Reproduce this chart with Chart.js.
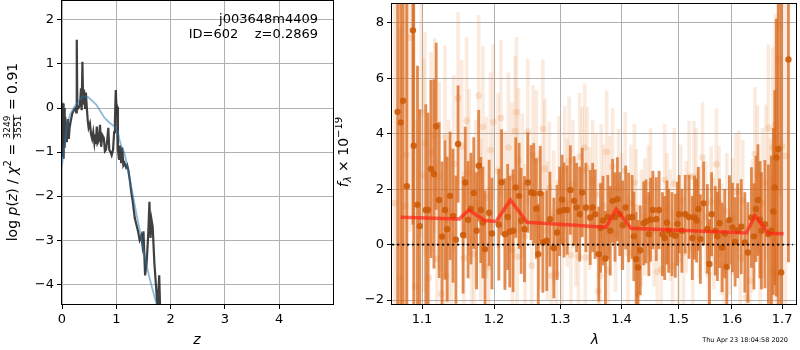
<!DOCTYPE html>
<html>
<head>
<meta charset="utf-8">
<script src="https://cdn.jsdelivr.net/npm/chart.js@4/dist/chart.umd.min.js"></script>
<style>
body{margin:0;background:#fff;width:800px;height:350px;position:relative;overflow:hidden}
#pz{position:absolute;left:0;top:0}
#sp{position:absolute;left:335px;top:0}
</style>
</head>
<body>
<canvas id="pz" width="335" height="350"></canvas>
<canvas id="sp" width="465" height="350"></canvas>
<script>
// p(z) panel
const zGrid = [0, 0.005, 0.012, 0.02, 0.03, 0.04, 0.05, 0.06, 0.075, 0.09,
  0.11, 0.125, 0.14, 0.16, 0.19, 0.22, 0.25, 0.262, 0.272, 0.282,
  0.3, 0.33, 0.35, 0.362, 0.376, 0.39, 0.405, 0.425, 0.44, 0.46,
  0.475, 0.49, 0.515, 0.535, 0.555, 0.575, 0.595, 0.61, 0.625, 0.64,
  0.655, 0.675, 0.7, 0.72, 0.745, 0.77, 0.79, 0.81, 0.835, 0.853,
  0.87, 0.895, 0.915, 0.94, 0.96, 0.975, 0.99, 1.0, 1.015, 1.03,
  1.05, 1.07, 1.09, 1.11, 1.13, 1.15, 1.18, 1.2, 1.22, 1.25,
  1.28, 1.3, 1.34, 1.4, 1.43, 1.46, 1.48, 1.5, 1.53, 1.56,
  1.59, 1.61, 1.63, 1.65, 1.67, 1.7, 1.74, 1.76, 1.79, 1.81];
const lnpZ = [-0.6, 0.12, -1.1, 0.1, -1.15, 0.0, -0.9, -0.2, -0.75, -0.55,
  -0.25, -0.7, -0.45, -0.3, -0.12, -0.05, 0.0, -0.1, 1.55, 0.05,
  0.0, 0.05, 0.45, -0.05, 1.05, 0.1, 0.42, 0.0, 0.35, -0.05,
  -0.3, -0.45, -0.35, -0.6, -0.7, -0.55, -0.78, -0.6, -0.82, -0.42,
  -0.8, -0.75, -0.38, -0.88, -0.62, -0.68, -0.98, -0.95, -0.7, -0.45,
  -0.95, -1.0, -1.07, -0.95, -0.55, -0.27, 0.41, 0.1, 0.03, -0.95,
  -1.18, -0.85, -1.25, -0.9, -1.3, -1.25, -1.35, -1.3, -1.4, -1.65,
  -1.95, -2.1, -2.5, -2.8, -3.0, -2.9, -3.1, -2.8, -3.8, -3.5,
  -2.8, -2.13, -2.95, -2.55, -2.7, -3.5, -4.2, -4.6, -3.8, -4.7];
const zFit = [0, 0.05, 0.1, 0.15, 0.22, 0.3, 0.39, 0.48, 0.55, 0.63,
  0.69, 0.78, 0.88, 0.97, 1.03, 1.06, 1.1, 1.15, 1.2, 1.25,
  1.31, 1.37, 1.43, 1.49, 1.55, 1.61, 1.67, 1.74, 1.8];
const lnpFit = [-1.3, -0.8, -0.35, -0.15, 0.02, 0.15, 0.27, 0.25, 0.17, 0.08,
  -0.04, -0.22, -0.34, -0.42, -0.55, -0.72, -0.9, -1.02, -1.3, -1.63,
  -2.0, -2.4, -2.76, -3.15, -3.52, -3.85, -4.13, -4.45, -4.7];
const zTicks = [0, 1, 2, 3, 4];
const lnpTicks = [-4, -3, -2, -1, 0, 1, 2];

// spectrum panel
const darkWave = [1.068, 1.072, 1.075, 1.080, 1.088, 1.089, 1.094, 1.097, 1.105, 1.108,
  1.112, 1.116, 1.119, 1.123, 1.127, 1.131, 1.134, 1.138, 1.142, 1.146,
  1.149, 1.156, 1.159, 1.163, 1.167, 1.171, 1.175, 1.178, 1.181, 1.184,
  1.187, 1.193, 1.197, 1.207, 1.211, 1.216, 1.220, 1.223, 1.228, 1.232,
  1.237, 1.240, 1.245, 1.250, 1.255, 1.259, 1.263, 1.266, 1.269, 1.273,
  1.279, 1.284, 1.290, 1.295, 1.299, 1.303, 1.306, 1.311, 1.316, 1.322,
  1.326, 1.331, 1.335, 1.341, 1.348, 1.352, 1.356, 1.362, 1.365, 1.369,
  1.373, 1.377, 1.381, 1.385, 1.389, 1.393, 1.397, 1.402, 1.407, 1.412,
  1.418, 1.421, 1.425, 1.428, 1.432, 1.438, 1.442, 1.447, 1.450, 1.454,
  1.460, 1.465, 1.471, 1.475, 1.479, 1.482, 1.488, 1.494, 1.498, 1.501,
  1.506, 1.512, 1.519, 1.525, 1.529, 1.533, 1.536, 1.540, 1.546, 1.553,
  1.557, 1.561, 1.568, 1.572, 1.576, 1.581, 1.586, 1.590, 1.595, 1.601,
  1.606, 1.611, 1.618, 1.625, 1.631, 1.638, 1.643, 1.647, 1.651, 1.655,
  1.658, 1.665, 1.672, 1.678, 1.682, 1.685, 1.688, 1.692, 1.698, 1.713];
const darkFlux = [4.79, 4.41, 5.19, 2.11, 7.73, 3.57, 1.44, 0.67, 1.25, 1.25,
  2.73, 2.55, 4.27, 1.61, 0.29, 1.25, 0.56, 1.76, 1.04, 0.18,
  3.63, 0.35, 2.24, 0.90, 1.30, 1.86, 0.50, 2.85, 1.25, 0.80,
  -0.16, 1.15, 0.40, 0.72, 2.25, 0.38, 1.00, 0.47, 0.50, 2.06,
  1.76, 0.86, 0.56, 2.24, 1.88, 1.85, 1.30, -0.34, 1.85, 0.08,
  0.14, 0.92, -0.12, 0.44, 1.20, 1.63, 1.25, 1.25, 1.97, 1.58,
  1.34, 1.10, 1.88, 1.34, 0.98, 1.34, 1.10, -0.34, 0.60, 0.87,
  -0.50, 1.00, 0.50, 1.58, 1.00, 1.64, 1.10, 0.70, 1.34, 0.98,
  1.00, 0.30, -0.52, -0.82, -0.20, 0.77, 0.84, 0.38, 0.90, 1.25,
  0.92, 1.25, 0.38, 0.24, 0.80, 0.50, 0.38, 0.32, 0.75, 1.10,
  0.50, 1.10, 1.00, 0.24, 0.98, 0.87, 1.29, 0.20, 1.49, 0.57,
  -0.70, 1.10, 0.50, 0.30, 0.77, -0.10, 0.40, -0.80, 0.89, 0.62,
  0.10, 0.50, 0.65, 0.08, -0.28, 0.98, 0.30, 1.29, 1.61, 0.90,
  0.50, 0.74, 0.38, 0.50, 1.20, 2.06, 3.14, 3.45, -1.00, 6.68];
const darkErr = [9, 9, 9, 8, 7, 6, 5, 4.2, 3.8, 3.5,
  3.2, 3.4, 3.0, 2.8, 2.7, 2.5, 2.6, 2.3, 2.4, 2.3,
  2.1, 2.1, 2.0, 2.1, 2.0, 2.0, 2.1, 2.0, 1.9, 2.0,
  2.1, 1.9, 2.0, 2.0, 1.9, 2.0, 1.9, 2.0, 2.2, 1.8,
  1.9, 1.9, 1.9, 1.8, 1.7, 1.8, 1.8, 1.8, 1.7, 1.8,
  1.8, 1.7, 1.8, 1.7, 1.6, 1.6, 1.7, 1.6, 1.6, 1.6,
  1.6, 1.7, 1.6, 1.6, 1.7, 1.6, 1.6, 1.7, 1.6, 1.6,
  1.7, 1.5, 1.6, 1.5, 1.6, 1.5, 1.5, 1.6, 1.5, 1.6,
  1.5, 1.6, 1.7, 1.7, 1.6, 1.5, 1.5, 1.5, 1.5, 1.4,
  1.5, 1.4, 1.5, 1.5, 1.5, 1.5, 1.5, 1.5, 1.5, 1.4,
  1.5, 1.4, 1.5, 1.5, 1.5, 1.5, 1.5, 1.6, 1.5, 1.6,
  1.6, 1.5, 1.6, 1.6, 1.6, 1.6, 1.6, 1.7, 1.6, 1.6,
  1.6, 1.7, 1.7, 1.8, 1.8, 1.8, 1.9, 1.9, 2.0, 2.1,
  2.1, 2.3, 2.5, 2.7, 3.0, 3.5, 5, 8, 12, 7.3];

const lightWave = [1.064, 1.071, 1.078, 1.079, 1.084, 1.091, 1.099, 1.102, 1.104, 1.109,
  1.112, 1.117, 1.120, 1.123, 1.126, 1.131, 1.132, 1.136, 1.140, 1.143,
  1.149, 1.154, 1.157, 1.161, 1.164, 1.168, 1.171, 1.174, 1.178, 1.181,
  1.184, 1.189, 1.192, 1.195, 1.199, 1.206, 1.210, 1.216, 1.221, 1.226,
  1.227, 1.231, 1.233, 1.234, 1.236, 1.242, 1.246, 1.250, 1.256, 1.258,
  1.263, 1.268, 1.273, 1.276, 1.280, 1.283, 1.286, 1.290, 1.294, 1.298,
  1.303, 1.307, 1.311, 1.314, 1.317, 1.320, 1.325, 1.329, 1.331, 1.335,
  1.339, 1.340, 1.343, 1.347, 1.352, 1.358, 1.361, 1.364, 1.366, 1.370,
  1.375, 1.377, 1.380, 1.385, 1.390, 1.395, 1.400, 1.406, 1.411, 1.416,
  1.422, 1.425, 1.429, 1.434, 1.440, 1.446, 1.450, 1.456, 1.462, 1.469,
  1.475, 1.479, 1.485, 1.489, 1.492, 1.500, 1.504, 1.509, 1.514, 1.519,
  1.526, 1.528, 1.532, 1.538, 1.544, 1.550, 1.555, 1.560, 1.565, 1.570,
  1.575, 1.580, 1.585, 1.590, 1.596, 1.601, 1.607, 1.613, 1.616, 1.621,
  1.628, 1.635, 1.640, 1.645, 1.650, 1.655, 1.660, 1.667, 1.672, 1.676,
  1.680, 1.681, 1.686, 1.688, 1.693, 1.695, 1.700, 1.707];
const lightFlux = [1.50, -1.20, 1.40, 3.24, 7.47, -1.50, 4.77, 2.50, 3.65, -1.20,
  3.33, 3.94, -0.50, 2.46, -1.78, 3.87, -1.13, 1.20, 0.30, 2.90,
  5.28, 3.55, -0.48, 4.47, 2.60, 0.20, -0.34, 1.50, 5.37, 0.90,
  4.25, 1.70, -0.80, 3.41, 4.42, 2.67, 4.57, 1.28, 3.50, 2.42,
  -0.19, 4.10, 4.78, -0.43, 3.05, 2.12, 0.30, 4.08, -0.76, 3.24,
  3.06, 0.90, 4.17, 2.73, 0.50, 2.04, -1.12, 1.00, -1.06, 2.23,
  0.17, 2.69, 1.50, 3.03, -0.37, 2.18, 0.80, -0.43, 3.17, 2.64,
  3.50, -0.46, 2.76, 1.30, 2.30, 1.80, -1.68, -1.12, 2.13, 1.40,
  3.35, -0.92, 1.80, 2.82, 0.40, 2.06, 1.20, 2.67, -0.30, 1.50,
  2.24, 1.34, -1.78, 0.60, 1.00, 1.58, 2.18, 0.50, -0.98, -0.88,
  2.33, 1.29, 0.70, -0.76, 2.20, -0.52, 1.60, -0.28, 1.00, 2.45,
  -0.16, 2.45, 2.20, 0.80, 3.14, 1.00, -1.06, 1.53, 0.40, 2.90,
  1.55, 0.20, -0.76, 1.20, 0.30, 1.00, 1.91, 1.91, -0.46, 1.58,
  -1.90, -1.30, 0.70, 3.27, 2.52, 0.40, 1.50, 2.24, 4.21, 0.60,
  -0.96, 3.50, 4.31, -1.08, 6.72, 7.90, 3.54, 3.20];
const lightErr = [9, 9, 8, 7, 7, 6, 4.5, 4.2, 4, 3.8,
  3.6, 3.5, 3.5, 3.4, 3.4, 3.3, 3.3, 3.3, 3.2, 3.2,
  3.1, 3.1, 3.1, 3.0, 3.0, 3.0, 3.0, 3.0, 2.9, 2.9,
  2.9, 2.9, 2.9, 2.8, 2.8, 2.8, 2.8, 2.8, 2.7, 2.7,
  2.7, 2.7, 2.7, 2.7, 2.6, 2.6, 2.6, 2.6, 2.6, 2.5,
  2.5, 2.5, 2.5, 2.5, 2.5, 2.4, 2.4, 2.4, 2.4, 2.4,
  2.4, 2.3, 2.3, 2.3, 2.3, 2.3, 2.3, 2.3, 2.3, 2.3,
  2.3, 2.3, 2.2, 2.2, 2.2, 2.2, 2.2, 2.2, 2.2, 2.2,
  2.2, 2.2, 2.1, 2.1, 2.1, 2.1, 2.1, 2.1, 2.1, 2.1,
  2.1, 2.1, 2.1, 2.1, 2.1, 2.0, 2.0, 2.0, 2.0, 2.0,
  2.0, 2.0, 2.0, 2.0, 2.0, 2.0, 2.0, 2.0, 2.0, 2.0,
  2.0, 2.0, 2.0, 2.0, 2.0, 2.0, 2.0, 2.0, 2.0, 2.0,
  2.0, 2.0, 2.1, 2.1, 2.1, 2.1, 2.1, 2.2, 2.2, 2.2,
  2.3, 2.3, 2.4, 2.4, 2.5, 2.6, 2.7, 2.8, 3.0, 3.2,
  3.4, 3.6, 4.0, 4.5, 5, 6, 7, 6];

const modelWave = [1.072, 1.151, 1.164, 1.187, 1.203, 1.224, 1.249, 1.374, 1.391, 1.416, 1.628, 1.645, 1.672, 1.703];
const modelFlux = [0.99, 0.93, 1.25, 0.87, 0.84, 1.61, 0.81, 0.63, 1.28, 0.59, 0.42, 1.05, 0.41, 0.39];
const zeroWave = [1.0608, 1.722];
const zeroFlux = [0, 0];
const waveTicks = [1.1, 1.2, 1.3, 1.4, 1.5, 1.6, 1.7];
const fluxTicks = [-2, 0, 2, 4, 6, 8];

Chart.defaults.font.family = "'DejaVu Sans', sans-serif";
Chart.defaults.font.size = 13;
Chart.defaults.color = '#000';

const pts = (xs, ys) => xs.map((x, i) => ({x: x, y: ys[i]}));
const errBars = (xs, ys, es) => xs.map((x, i) => ({x: x, y: [ys[i] - es[i], ys[i] + es[i]]}));
const minus = v => String(v).replace('-', '\u2212');

// fixed axis sizes so the plot areas land where the reference has them
const fitX = s => { s.height = 46; s.paddingLeft = 0; s.paddingRight = 0; };
const fitY = w => s => { s.width = w; s.paddingTop = 0; s.paddingBottom = 0; };

function axis(type, min, max, ticks, fit, fmt) {
  return {
    type: type, min: min, max: max, offset: false,
    grid: {color: '#b0b0b0', lineWidth: 1, tickColor: '#000', tickLength: 5, tickWidth: 1, offset: false},
    border: {display: false},
    ticks: {color: '#000', padding: 3, maxRotation: 0, autoSkip: false, callback: fmt},
    afterBuildTicks: s => { s.ticks = ticks.map(v => ({value: v})); },
    afterFit: fit
  };
}

const frame = {
  id: 'frame',
  afterDraw(chart) {
    const a = chart.chartArea, ctx = chart.ctx;
    ctx.save();
    ctx.strokeStyle = '#000';
    ctx.lineWidth = 1;
    ctx.strokeRect(Math.round(a.left) - 0.5, Math.round(a.top) - 0.5,
      Math.round(a.right - a.left) + 1, Math.round(a.bottom - a.top) + 1);
    ctx.restore();
  }
};

// draws a row of text pieces centred on 0,0 (used for rotated labels)
function drawPieces(ctx, pieces) {
  let w = 0;
  pieces.forEach(p => {
    ctx.font = p.font;
    p.w = p.frac ? Math.max(ctx.measureText(p.frac[0]).width, ctx.measureText(p.frac[1]).width) + 2
                 : ctx.measureText(p.t).width;
    w += p.w;
  });
  let x = -w / 2;
  ctx.textBaseline = 'middle';
  ctx.textAlign = 'left';
  pieces.forEach(p => {
    ctx.font = p.font;
    if (p.frac) {
      ctx.textAlign = 'center';
      ctx.fillText(p.frac[0], x + p.w / 2, -5);
      ctx.fillText(p.frac[1], x + p.w / 2, 6);
      ctx.fillRect(x, 0, p.w, 0.8);
      ctx.textAlign = 'left';
    } else {
      ctx.fillText(p.t, x, p.dy || 0);
    }
    x += p.w;
  });
}

const pzText = {
  id: 'pzText',
  afterDraw(chart) {
    const ctx = chart.ctx;
    ctx.save();
    ctx.fillStyle = '#000';
    ctx.font = "13px 'DejaVu Sans'";
    ctx.textAlign = 'right';
    ctx.textBaseline = 'middle';
    ctx.fillText('j003648m4409', 318, 20);
    ctx.fillText('ID=602    z=0.2869', 318, 35);
    ctx.textAlign = 'center';
    ctx.font = "italic 14px 'DejaVu Sans'";
    ctx.fillText('z', 197, 340);
    ctx.translate(13, 152);
    ctx.rotate(-Math.PI / 2);
    const f = "14px 'DejaVu Sans'", fi = "italic 14px 'DejaVu Sans'";
    drawPieces(ctx, [
      {t: 'log ', font: f}, {t: 'p', font: fi}, {t: '(', font: f}, {t: 'z', font: fi},
      {t: ') / ', font: f}, {t: '\u03c7', font: fi}, {t: '2', font: "10px 'DejaVu Sans'", dy: -5},
      {t: ' = ', font: f}, {frac: ['3249', '3551'], font: "9px 'DejaVu Sans'"}, {t: ' = 0.91', font: f}
    ]);
    ctx.restore();
  }
};

const spText = {
  id: 'spText',
  afterDraw(chart) {
    const ctx = chart.ctx;
    ctx.save();
    ctx.fillStyle = '#000';
    ctx.textAlign = 'center';
    ctx.textBaseline = 'middle';
    ctx.font = "italic 14px 'DejaVu Sans'";
    ctx.fillText('\u03bb', 260, 340);
    ctx.font = "6.5px 'DejaVu Sans'";
    ctx.textAlign = 'right';
    ctx.fillText('Thu Apr 23 18:04:58 2020', 453, 340);
    ctx.translate(9, 152);
    ctx.rotate(-Math.PI / 2);
    drawPieces(ctx, [
      {t: 'f', font: "italic 14px 'DejaVu Sans'"}, {t: '\u03bb', font: "italic 10px 'DejaVu Sans'", dy: 4},
      {t: ' \u00d7 10', font: "14px 'DejaVu Sans'"}, {t: '\u221219', font: "10px 'DejaVu Sans'", dy: -5}
    ]);
    ctx.restore();
  }
};

const common = {
  responsive: false, animation: false, events: [],
  plugins: {legend: {display: false}, tooltip: {enabled: false}}
};

new Chart(document.getElementById('pz'), {
  type: 'scatter',
  data: {datasets: [
    {data: pts(zFit, lnpFit), showLine: true, pointRadius: 0, borderColor: 'rgba(31,119,180,0.5)', borderWidth: 1.8, order: 0, clip: 0},
    {data: pts(zGrid, lnpZ), showLine: true, pointRadius: 0, borderColor: 'rgba(30,30,30,0.85)', borderWidth: 2.2, order: 1, clip: 0}
  ]},
  options: Object.assign({}, common, {
    layout: {padding: {left: 0, top: 1, right: 2, bottom: 0}},
    scales: {
      x: axis('linear', 0, 4.99, zTicks, fitX, v => minus(v)),
      y: axis('linear', -4.45, 2.43, lnpTicks, fitY(62), v => minus(v))
    }
  }),
  plugins: [frame, pzText]
});

new Chart(document.getElementById('sp'), {
  type: 'scatter',
  data: {datasets: [
    {type: 'bar', data: errBars(lightWave, lightFlux, lightErr), backgroundColor: 'rgba(230,135,65,0.17)', barThickness: 3, stack: 'err', order: 6, clip: 0},
    {type: 'scatter', data: pts(lightWave, lightFlux), pointRadius: 3.4, backgroundColor: 'rgba(230,135,65,0.22)', borderWidth: 0, order: 5, clip: 0},
    {type: 'bar', data: errBars(darkWave, darkFlux, darkErr), backgroundColor: 'rgba(216,104,28,0.75)', barThickness: 2.2, stack: 'err', order: 4, clip: 0},
    {type: 'scatter', data: pts(darkWave, darkFlux), pointRadius: 3.2, backgroundColor: 'rgba(205,92,10,0.9)', borderWidth: 0, order: 3, clip: 0},
    {type: 'line', data: pts(modelWave, modelFlux), borderColor: 'rgba(255,35,20,0.7)', borderWidth: 3.5, pointRadius: 0, order: 2, clip: 0},
    {type: 'line', data: pts(zeroWave, zeroFlux), borderColor: '#000', borderWidth: 1.8, borderDash: [2.2, 2.8], pointRadius: 0, order: 1, clip: 0}
  ]},
  options: Object.assign({}, common, {
    layout: {padding: {left: 0, top: 1, right: 1, bottom: 0}},
    scales: {
      x: axis('logarithmic', 1.0608, 1.7287, waveTicks, fitX, v => Number(v).toFixed(1)),
      y: Object.assign(axis('linear', -2.14, 8.68, fluxTicks, fitY(57), v => minus(v)), {stacked: false})
    }
  }),
  plugins: [frame, spText]
});
</script>
</body>
</html>
